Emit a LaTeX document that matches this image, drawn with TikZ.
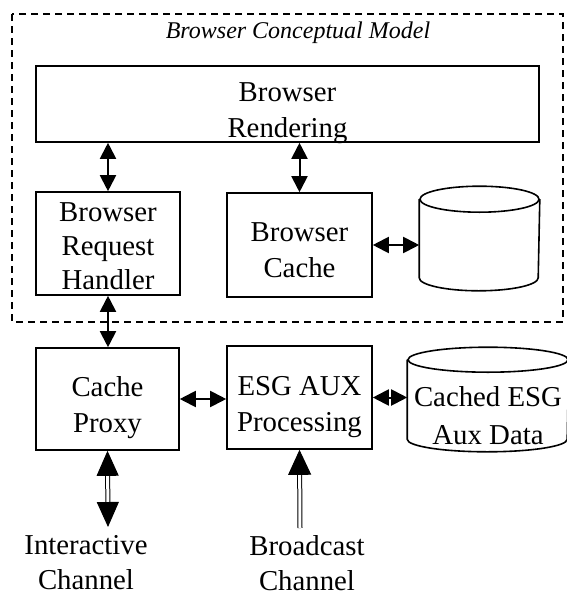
\documentclass[tikz,border=0pt]{standalone}
\usepackage{fontspec}
\setmainfont{Liberation Serif}
\usetikzlibrary{arrows.meta}

\begin{document}
\begin{tikzpicture}[x=0.5pt,y=-0.5pt,
  blk/.style={draw,line width=0.8pt,align=center,inner sep=0pt,text height=33pt,text depth=0pt,font=\fontsize{14.4}{18}\selectfont},
  lbl/.style={align=center,inner sep=0pt,font=\fontsize{14.4}{17.5}\selectfont},
  link/.style={line width=1pt,{Triangle[length=8pt,width=8pt]}-{Triangle[length=8pt,width=8pt]}},
  chan/.style={double,double distance=1.5pt,line width=0.5pt}]
\useasboundingbox (0,0) rectangle (567,595);
% browser side
\draw [line width=1pt,dash pattern=on 3.5pt off 2.5pt] (12,14) rectangle (563,322);
\node [font=\itshape\fontsize{12}{14}\selectfont] (title) at (298,33) {Browser Conceptual Model};
\node [blk,minimum width=251.5pt,minimum height=38pt] (render) at (287.5,104) {Browser\\Rendering};
\node [blk,text height=46pt,font=\fontsize{14.4}{17}\selectfont,minimum width=72pt,minimum height=51.5pt] (handler) at (108,243.5) {Browser\\Request\\Handler};
\node [blk,text height=32pt,minimum width=72.5pt,minimum height=52pt] (bcache) at (299.5,245) {Browser\\Cache};
\node [blk,draw=none,minimum width=59.5pt,minimum height=51.5pt] (store) at (479.5,238.5) {};
\draw [line width=0.8pt] ([yshift=-6.5pt]store.north) ellipse [x radius=59.5,y radius=13];
\draw [line width=0.8pt] ([yshift=-6.5pt]store.north west) -- ([yshift=6.5pt]store.south west)
  arc [start angle=180,end angle=0,x radius=59.5,y radius=13] -- ([yshift=-6.5pt]store.north east);
% receiver side
\node [blk,minimum width=71.5pt,minimum height=51pt] (proxy) at (107.5,399) {Cache\\Proxy};
\node [blk,text height=34pt,minimum width=72.5pt,minimum height=51.5pt] (esg) at (299.5,397.5) {ESG AUX\\Processing};
\node [blk,draw=none,text height=45pt,font=\fontsize{14.4}{19}\selectfont,minimum width=80pt,minimum height=51.5pt] (auxdata) at (488,399.5) {Cached ESG\\Aux Data};
\draw [line width=0.8pt] ([yshift=-6.25pt]auxdata.north) ellipse [x radius=80,y radius=12.5];
\draw [line width=0.8pt] ([yshift=-6.25pt]auxdata.north west) -- ([yshift=6.25pt]auxdata.south west)
  arc [start angle=180,end angle=0,x radius=80,y radius=12.5] -- ([yshift=-6.25pt]auxdata.north east);
\node [lbl] (inter) at (86,563) {Interactive\\Channel};
\node [lbl] (bcast) at (307,563) {Broadcast\\Channel};
\coordinate (ichan) at (108,527);
\coordinate (bchan) at (300,528);
% links
\draw [link] (handler.north) -- (handler.north |- render.south);
\draw [link] (bcache.north) -- (bcache.north |- render.south);
\draw [link] (bcache.east) -- (bcache.east -| store.west);
\draw [link] (handler.south) -- (handler.south |- proxy.north);
\draw [link] (proxy.east) -- (proxy.east -| esg.west);
\draw [link] (esg.east) -- (esg.east -| auxdata.west);
\draw [chan,{Triangle[length=12.5pt,width=11pt]}-{Triangle[length=12.5pt,width=11pt]}] (proxy.south) -- (ichan);
\draw [chan,-{Triangle[length=12.5pt,width=11.5pt]}] (bchan) -- (esg.south);
\end{tikzpicture}
\end{document}
